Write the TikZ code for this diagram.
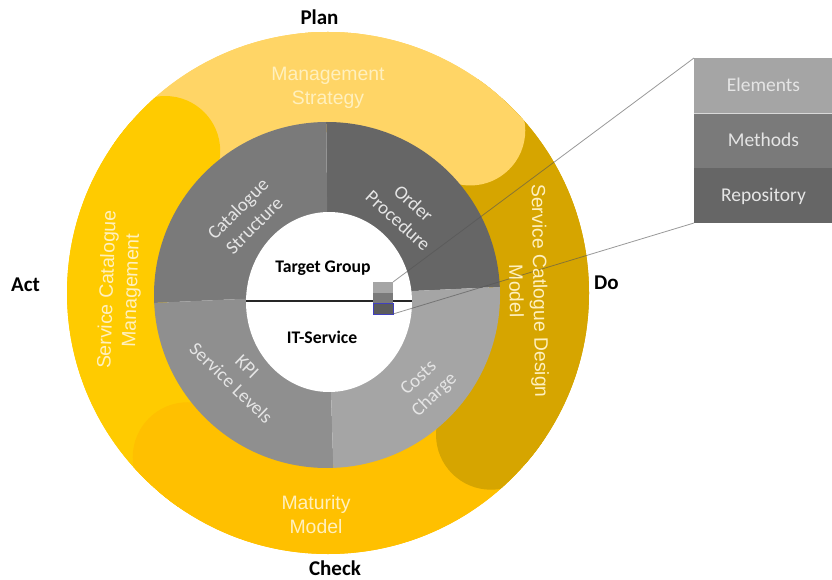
\documentclass[tikz,border=0pt]{standalone}
\usepackage{fontspec}
\setmainfont{Carlito}
\newfontfamily\arialfont{Liberation Sans}
\definecolor{bandlight}{HTML}{FFD566}
\definecolor{banddark}{HTML}{D6A500}
\definecolor{bandleft}{HTML}{FFCB00}
\definecolor{bandbottom}{HTML}{FFC000}
\definecolor{bandtext}{HTML}{FFF0BE}
\definecolor{gA}{HTML}{666666}
\definecolor{gB}{HTML}{7A7A7A}
\definecolor{gC}{HTML}{8F8F8F}
\definecolor{gD}{HTML}{A5A5A5}
\definecolor{linkgray}{HTML}{555555}
\tikzset{
  pdca/.style={font=\bfseries\fontsize{21}{24}\selectfont,text=black,inner sep=0pt},
  core/.style={font=\bfseries\fontsize{17.7}{20}\selectfont,text=black,inner sep=0pt},
  bandlabel/.style={font=\arialfont\fontsize{19.4}{24}\selectfont,text=bandtext,align=center,inner sep=0pt},
  ringlabel/.style={font=\fontsize{19}{23}\selectfont,text=white!90!black,align=center,inner sep=0pt},
  panelbox/.style={minimum width=139pt,minimum height=55pt,inner sep=0pt,outer sep=0pt,text height=14pt,text depth=2pt,font=\fontsize{19.5}{22}\selectfont,text=white!90!black},
  minibox/.style={minimum width=20pt,minimum height=11pt,inner sep=0pt,outer sep=0pt},
  linkline/.style={draw=linkgray,line width=0.8pt,draw opacity=0.6}
}
% #1 colour, #2 start, #3 end, all angles about the ring centre
\newcommand{\bandarc}[3]{%
  \draw[#1,line width=110pt] (#2:216) arc[start angle=#2,end angle=#3,radius=216];
  \draw[#1,line width=100pt] (#2:270) arc[start angle=#2,end angle=#3,radius=270];
  \fill[#1] (#2:216) circle (55);
}
\begin{document}
\begin{tikzpicture}[x=1pt,y=1pt]
\useasboundingbox (0,0) rectangle (832,579);
\begin{scope}
  \clip (328,286) circle (261);
  \begin{scope}[shift={(328,286)}]
    \bandarc{bandlight}{90}{145}
    \bandarc{bandleft}{138.9}{235}
    \bandarc{bandbottom}{229.5}{325}
    \bandarc{banddark}{319}{415}
    \bandarc{bandlight}{48.8}{95}
  \end{scope}
\end{scope}
% grey ring
\begin{scope}
  \clip (327,284) circle (173);
  \fill[gA] (328,284) -- (326,479) -- (520,479) -- (520,293) -- cycle;
  \fill[gB] (328,284) -- (326,479) -- (130,479) -- (130,275) -- cycle;
  \fill[gC] (328,284) -- (130,275) -- (130,90) -- (334,90) -- cycle;
  \fill[gD] (328,284) -- (334,90) -- (520,90) -- (520,293) -- cycle;
\end{scope}
\fill[white] (329,277) ellipse [x radius=83,y radius=90];
% axis
\coordinate (axisL) at (246,278);
\coordinate (axisR) at (412,278);
\draw[black!85,line width=1.3pt] (axisL) -- (axisR);
% mini stack
\node[minibox,fill=gD] (miniA) at (383,291.5) {};
\node[minibox,fill=gB] (miniB) at (383,280.5) {};
\node[minibox,fill=gA!90!black,draw=blue!50!gray,line width=0.6pt] (miniC) at (383,270.5) {};
% panel
\node[panelbox,fill=gD] (elements) at (763.5,493.5) {Elements};
\node[panelbox,fill=gB] (methods) at (763.5,438.5) {Methods};
\node[panelbox,fill=gA] (repository) at (763.5,383.5) {Repository};
\draw[white!85!black,line width=0.7pt] (elements.south west) -- (elements.south east);
\draw[linkline] (miniA.north east) -- (elements.north west);
\draw[linkline] (miniC.south east) -- (repository.south west);
% labels
\node[pdca] (plan) at (319.5,562) {Plan};
\node[pdca] (check) at (335,11) {Check};
\node[pdca] (act) at (25.5,294) {Act};
\node[pdca] (do) at (606.5,296) {Do};
\node[core] (target) at (323,311) {Target Group};
\node[core] (its) at (322,242) {IT-Service};
\node[bandlabel] (mgmt) at (328,491) {Management\\Strategy};
\node[bandlabel,rotate=-89] (design) at (528.5,288) {Service Catlogue Design\\Model};
\node[bandlabel] (maturity) at (316,64) {Maturity\\Model};
\node[bandlabel,rotate=88] (svc) at (120,289) {Service Catalogue\\Management};
\node[ringlabel,rotate=45] (cat) at (246,362) {Catalogue\\Structure};
\node[ringlabel,rotate=-42] (ord) at (406,367) {Order\\Procedure};
\node[ringlabel,rotate=-44] (kpi) at (239,204) {KPI\\Service Levels};
\node[ringlabel,rotate=43] (cost) at (427,192) {Costs\\Charge};
\end{tikzpicture}
\end{document}
